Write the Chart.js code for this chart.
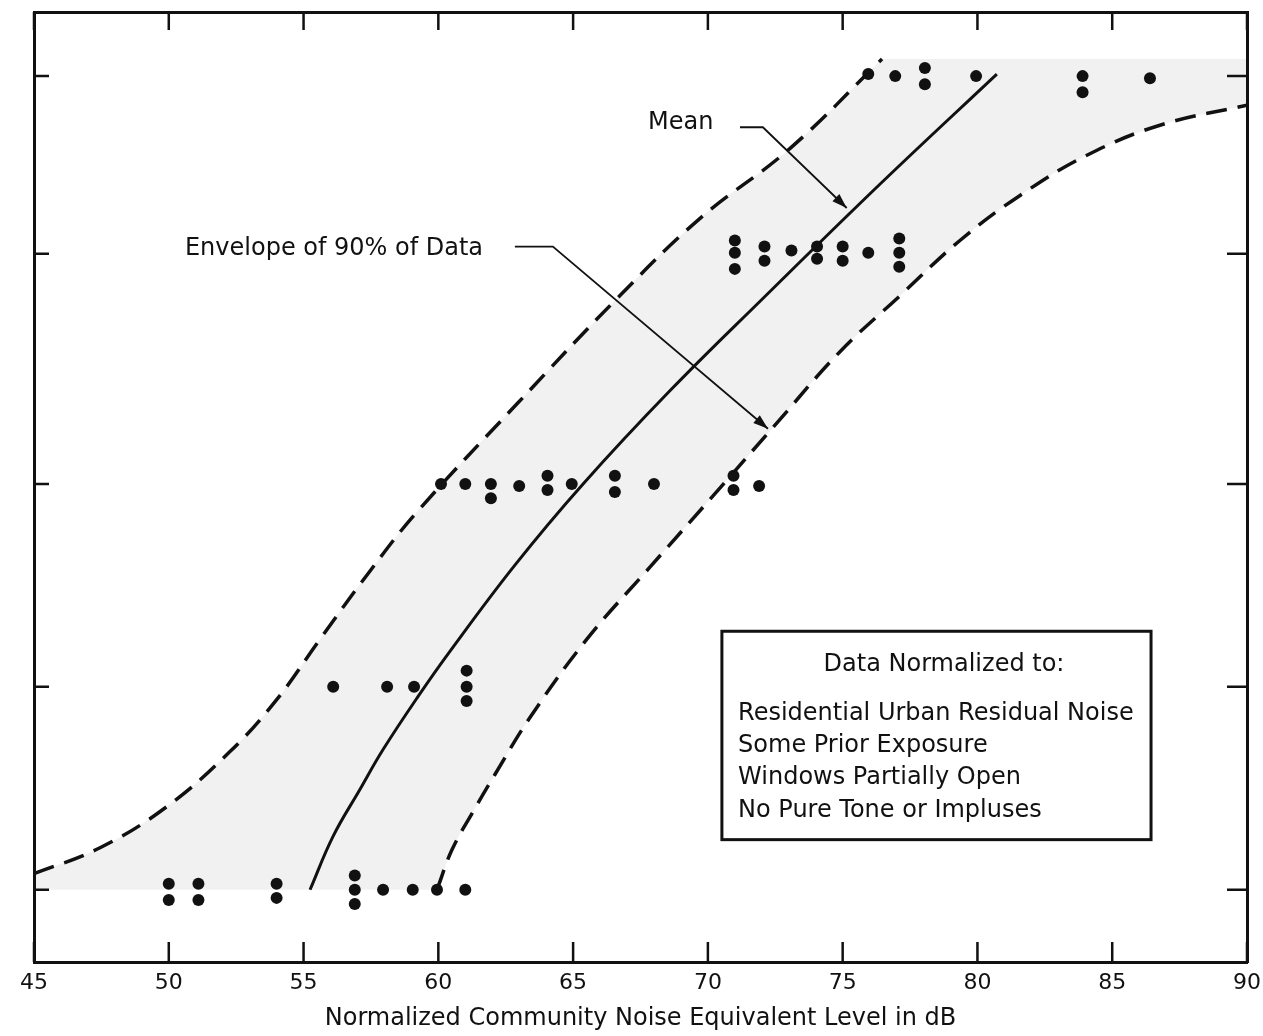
<!DOCTYPE html>
<html>
<head>
<meta charset="utf-8">
<script src="https://cdn.jsdelivr.net/npm/chart.js@4.4.1/dist/chart.umd.min.js"></script>
<style>
  html, body { margin: 0; padding: 0; background: #ffffff; }
  #wrap { width: 1263px; height: 1036px; }
</style>
</head>
<body>
<div id="wrap"><canvas id="c" width="1263" height="1036"></canvas></div>
<script>
// ---------------- DATA ----------------
const xTicks = [45, 50, 55, 60, 65, 70, 75, 80, 85, 90];
// positions of the five community-reaction levels (unlabelled in the figure)
const yLevels = [0, 1, 2, 3.135, 4.01];

// upper dashed envelope (90% of data)
const upperX = [45.0, 47.45, 49.93, 52.27, 54.01, 55.61, 57.46, 59.21, 62.92, 66.63, 69.71, 73.05, 76.46];
const upperY = [0.079, 0.207, 0.41, 0.681, 0.938, 1.235, 1.57, 1.862, 2.395, 2.914, 3.309, 3.654, 4.094];

// lower dashed envelope
const lowerX = [59.95, 60.51, 61.29, 62.1, 63.4, 65.51, 67.85, 70.19, 72.53, 74.9, 77.13, 79.35, 81.58, 84.06, 86.77, 90.0];
const lowerY = [0.0, 0.198, 0.385, 0.568, 0.849, 1.235, 1.59, 1.941, 2.296, 2.652, 2.928, 3.2, 3.422, 3.62, 3.768, 3.867];

// mean curve
const meanX = [55.24, 56.09, 57.09, 57.95, 59.25, 60.43, 62.84, 65.37, 68.59, 72.04, 76.38, 80.72];
const meanY = [0.0, 0.262, 0.494, 0.691, 0.953, 1.175, 1.6, 2.0, 2.459, 2.914, 3.477, 4.02];

// observed community cases (dots)
const dotX = [
  50.0, 50.0, 51.1, 51.1, 54.0, 54.0, 56.9, 56.9, 56.9, 57.95, 59.05, 59.95, 61.0,
  56.1, 58.1, 59.1, 61.05, 61.05, 61.05,
  60.1, 61.0, 61.95, 61.95, 63.0, 64.05, 64.05, 64.95, 66.55, 66.55, 68.0, 70.95, 70.95, 71.9,
  71.0, 71.0, 71.0, 72.1, 72.1, 73.1, 74.05, 74.05, 75.0, 75.0, 75.95, 77.1, 77.1, 77.1,
  75.95, 76.95, 78.05, 78.05, 79.95, 83.9, 83.9, 86.4
];
const dotY = [
  0.03, -0.05, 0.03, -0.05, 0.03, -0.04, 0.07, 0.00, -0.07, 0.00, 0.00, 0.00, 0.00,
  1.00, 1.00, 1.00, 1.08, 1.00, 0.93,
  2.00, 2.00, 2.00, 1.93, 1.99, 2.04, 1.97, 2.00, 2.04, 1.96, 2.00, 2.04, 1.97, 1.99,
  3.20, 3.14, 3.06, 3.17, 3.10, 3.15, 3.17, 3.11, 3.17, 3.10, 3.14, 3.21, 3.14, 3.07,
  4.02, 4.01, 4.05, 3.97, 4.01, 4.01, 3.93, 4.00
];

// leader lines of the two call-outs
const meanLeaderX = [71.19, 72.04, 75.15];
const meanLeaderY = [3.758, 3.758, 3.36];
const envLeaderX = [62.84, 64.25, 72.23];
const envLeaderY = [3.17, 3.17, 2.272];

const xTitle = 'Normalized Community Noise Equivalent Level in dB';
const meanLabel = 'Mean';
const envLabel = 'Envelope of 90% of Data';
const boxTitle = 'Data Normalized to:';
const boxLines = ['Residential Urban Residual Noise', 'Some Prior Exposure', 'Windows Partially Open', 'No Pure Tone or Impluses'];

// ---------------- BUILD ----------------
const pts = (xs, ys) => xs.map((x, i) => ({ x: x, y: ys[i] }));
const FONT = "'DejaVu Sans', sans-serif";
const INK = '#111111';

// shaded band: upper envelope, across the top to the right edge, back along lower envelope, along bottom level.
// corner points are repeated so the smoothed outline keeps sharp corners.
const upP = pts(upperX, upperY), loP = pts(lowerX, lowerY).reverse();
const cTR = { x: 90, y: upperY[upperY.length - 1] };
const cBL = { x: 45, y: lowerY[0] };
const bandPts = [upP[0]].concat(upP)
  .concat([upP[upP.length - 1], cTR, cTR, loP[0]])
  .concat(loP)
  .concat([loP[loP.length - 1], cBL, cBL, upP[0]]);

const inwardTicks = {
  id: 'inwardTicks',
  afterDatasetsDraw(chart) {
    const ctx = chart.ctx, a = chart.chartArea;
    const xs = chart.scales.x, ys = chart.scales.y;
    ctx.save();
    ctx.strokeStyle = INK;
    ctx.lineWidth = 2.5;
    ctx.beginPath();
    xTicks.forEach(v => {
      const p = xs.getPixelForValue(v);
      ctx.moveTo(p, a.bottom); ctx.lineTo(p, a.bottom - 20);
      ctx.moveTo(p, a.top); ctx.lineTo(p, a.top + 18);
    });
    yLevels.forEach(v => {
      const p = ys.getPixelForValue(v);
      ctx.moveTo(a.left, p); ctx.lineTo(a.left + 15, p);
      ctx.moveTo(a.right, p); ctx.lineTo(a.right - 20, p);
    });
    ctx.stroke();
    ctx.restore();
  }
};

const callouts = {
  id: 'callouts',
  afterDatasetsDraw(chart, args, o) {
    const ctx = chart.ctx;
    const xs = chart.scales.x, ys = chart.scales.y;
    const X = v => xs.getPixelForValue(v), Y = v => ys.getPixelForValue(v);
    ctx.save();
    // arrowheads at leader tips
    [[meanLeaderX, meanLeaderY], [envLeaderX, envLeaderY]].forEach(([lx, ly]) => {
      const n = lx.length;
      const x1 = X(lx[n - 2]), y1 = Y(ly[n - 2]), x2 = X(lx[n - 1]), y2 = Y(ly[n - 1]);
      const ang = Math.atan2(y2 - y1, x2 - x1);
      const L = o.arrowLen, W = o.arrowHalf;
      ctx.fillStyle = INK;
      ctx.beginPath();
      ctx.moveTo(x2, y2);
      ctx.lineTo(x2 - L * Math.cos(ang) + W * Math.sin(ang), y2 - L * Math.sin(ang) - W * Math.cos(ang));
      ctx.lineTo(x2 - L * Math.cos(ang) - W * Math.sin(ang), y2 - L * Math.sin(ang) + W * Math.cos(ang));
      ctx.closePath();
      ctx.fill();
    });
    // call-out labels
    ctx.fillStyle = INK;
    ctx.font = o.labelFont;
    ctx.textBaseline = 'middle';
    ctx.textAlign = 'left';
    ctx.fillText(meanLabel, X(o.meanAt[0]), Y(o.meanAt[1]));
    ctx.fillText(envLabel, X(o.envAt[0]), Y(o.envAt[1]));
    // boxed note
    const bx1 = X(o.box[0]), bx2 = X(o.box[1]), by1 = Y(o.box[2]), by2 = Y(o.box[3]);
    ctx.fillStyle = '#ffffff';
    ctx.fillRect(bx1, by1, bx2 - bx1, by2 - by1);
    ctx.strokeStyle = INK;
    ctx.lineWidth = 3;
    ctx.strokeRect(bx1, by1, bx2 - bx1, by2 - by1);
    ctx.fillStyle = INK;
    ctx.textAlign = 'center';
    ctx.fillText(boxTitle, X(o.boxTitleAt[0]), Y(o.boxTitleAt[1]));
    ctx.textAlign = 'left';
    boxLines.forEach((t, i) => ctx.fillText(t, X(o.boxLinesX), Y(o.boxLinesY[i])));
    ctx.restore();
  }
};

const zeroFit = s => { if (s.isHorizontal()) s.height = 0; else s.width = 0; s.paddingLeft = 0; s.paddingRight = 0; s.paddingTop = 0; s.paddingBottom = 0; };

new Chart(document.getElementById('c'), {
  type: 'scatter',
  data: {
    datasets: [
      { data: pts(dotX, dotY), pointRadius: 6, pointHoverRadius: 6, backgroundColor: INK, borderColor: INK, borderWidth: 0, order: 0 },
      { data: pts(meanLeaderX, meanLeaderY), showLine: true, pointRadius: 0, borderColor: INK, borderWidth: 1.8, order: 1 },
      { data: pts(envLeaderX, envLeaderY), showLine: true, pointRadius: 0, borderColor: INK, borderWidth: 1.8, order: 1 },
      { data: pts(meanX, meanY), showLine: true, pointRadius: 0, borderColor: INK, borderWidth: 3, tension: 0.4, order: 2 },
      { data: pts(upperX, upperY), showLine: true, pointRadius: 0, borderColor: INK, borderWidth: 3.5, borderDash: [21, 11], tension: 0.4, order: 2 },
      { data: pts(lowerX, lowerY), showLine: true, pointRadius: 0, borderColor: INK, borderWidth: 3.5, borderDash: [21, 11], tension: 0.4, order: 2 },
      { data: bandPts, showLine: true, pointRadius: 0, borderWidth: 0, borderColor: 'rgba(0,0,0,0)', backgroundColor: 'rgba(0,0,0,0.055)', fill: 'shape', tension: 0.4, order: 3 }
    ]
  },
  options: {
    responsive: false,
    animation: false,
    devicePixelRatio: 1,
    layout: { padding: { left: 34, right: 16, top: 12, bottom: 0 } },
    plugins: {
      legend: { display: false },
      tooltip: { enabled: false },
      callouts: {
        labelFont: "24px " + FONT,
        arrowLen: 15, arrowHalf: 5,
        meanAt: [67.78, 3.778],
        envAt: [50.6, 3.16],
        box: [70.52, 86.44, 1.274, 0.247],
        boxTitleAt: [78.76, 1.111],
        boxLinesX: 71.12,
        boxLinesY: [0.869, 0.711, 0.553, 0.39]
      }
    },
    scales: {
      x: {
        type: 'linear', position: 'bottom', min: 45, max: 90,
        afterBuildTicks: s => { s.ticks = xTicks.map(v => ({ value: v })); },
        afterFit: s => { s.height = 74; s.paddingLeft = 0; s.paddingRight = 0; },
        grid: { display: false, drawTicks: false },
        border: { display: true, color: INK, width: 3 },
        ticks: { color: INK, font: { family: FONT, size: 22 }, padding: 8, autoSkip: false, maxRotation: 0 },
        title: { display: true, text: xTitle, color: INK, font: { family: FONT, size: 24 }, padding: { top: 0, bottom: 3 } }
      },
      y: {
        type: 'linear', position: 'left', min: -0.356, max: 4.326,
        afterBuildTicks: s => { s.ticks = yLevels.map(v => ({ value: v })); },
        afterFit: zeroFit,
        grid: { display: false, drawTicks: false },
        border: { display: true, color: INK, width: 3 },
        ticks: { display: false }
      },
      x2: {
        type: 'linear', position: 'top', min: 45, max: 90,
        afterFit: zeroFit,
        grid: { display: false, drawTicks: false },
        border: { display: true, color: INK, width: 3 },
        ticks: { display: false }
      },
      y2: {
        type: 'linear', position: 'right', min: -0.356, max: 4.326,
        afterFit: zeroFit,
        grid: { display: false, drawTicks: false },
        border: { display: true, color: INK, width: 3 },
        ticks: { display: false }
      }
    }
  },
  plugins: [inwardTicks, callouts]
});
</script>
</body>
</html>
